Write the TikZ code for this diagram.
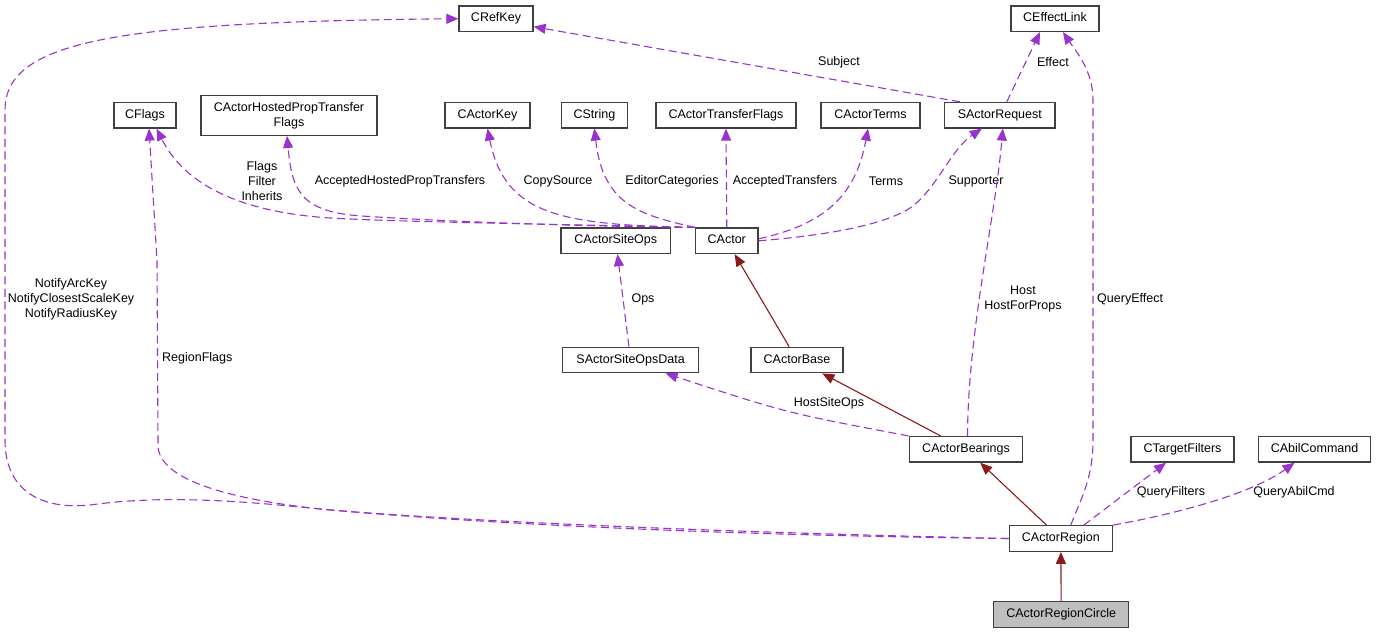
\documentclass[tikz,border=0pt]{standalone}
\usepackage{fontspec}
\setmainfont{Liberation Sans}
\usetikzlibrary{arrows.meta}
\definecolor{usecol}{HTML}{9A32CD}
\definecolor{inhcol}{HTML}{8B1A1A}

\begin{document}
\begin{tikzpicture}[x=1pt, y=-1pt,
    font=\fontsize{12.5}{15}\selectfont,
    cls/.style={draw=black!75, line width=1.3pt, minimum height=25.5pt, inner xsep=3pt, inner ysep=2pt,
      text height=9pt, text depth=3pt},
    uses/.style={draw=usecol, line width=1.1pt, dash pattern=on 8pt off 4.5pt, -{Triangle[length=12pt,width=10pt]}},
    inherits/.style={draw=inhcol, line width=1.1pt, -{Triangle[length=12pt,width=10pt]}},
    lbl/.style={inner sep=0pt, align=center}]
      \useasboundingbox (0,0) rectangle (1376,633);

      \node[cls, minimum width=74] (refkey) at (496,18.7) {CRefKey};
      \node[cls, minimum width=88] (effect) at (1055,18.7) {CEffectLink};
      \node[cls, minimum width=62] (flags) at (145,115.2) {CFlags};
      \node[draw=black!75, line width=1.3pt, minimum width=176, minimum height=40, align=center] (hosted) at (289,115.3) {CActorHostedPropTransfer\\Flags};
      \node[cls, minimum width=85] (key) at (487.5,115.2) {CActorKey};
      \node[cls, minimum width=66] (string) at (594.4,115.2) {CString};
      \node[cls, minimum width=140] (transfer) at (726,115.2) {CActorTransferFlags};
      \node[cls, minimum width=99] (terms) at (870.5,115.2) {CActorTerms};
      \node[cls, minimum width=110.5] (request) at (999.8,115.2) {SActorRequest};
      \node[cls, minimum width=109.5] (siteops) at (615.8,240.8) {CActorSiteOps};
      \node[cls, minimum width=62.5] (actor) at (726.8,240.8) {CActor};
      \node[cls, minimum width=136] (opsdata) at (630.6,360) {SActorSiteOpsData};
      \node[cls, minimum width=92] (base) at (797,360) {CActorBase};
      \node[cls, minimum width=113.5] (bearings) at (966,449.3) {CActorBearings};
      \node[cls, minimum width=103] (filters) at (1182.5,449.3) {CTargetFilters};
      \node[cls, minimum width=112] (abilcmd) at (1314.5,449.3) {CAbilCommand};
      \node[cls, minimum width=103] (region) at (1060.8,538.5) {CActorRegion};
      \node[cls, minimum width=135, fill=black!25] (circle) at (1061.2,614.5) {CActorRegionCircle};

      % inheritance
      \draw[inherits] (circle) -- (region);
      \draw[inherits] (region) -- (bearings);
      \draw[inherits] (bearings) -- (base);
      \draw[inherits] (base) -- (actor);

      % members
      \draw[uses] (request.north) ++(-40,0) -- ([yshift=-8pt]refkey.east);
      \node[lbl] (l-subject) at (839,62) {Subject};
      \draw[uses] ([xshift=7pt]request.north) -- ([xshift=-15pt]effect.south);
      \node[lbl] (l-effect) at (1053,62) {Effect};

      \draw[uses] (actor.north west) .. controls (550,224) and (400,222) .. (330,218)
        .. controls (240,212) and (185,185) .. ([xshift=11.5pt]flags.south);
      \node[lbl] (l-flags) at (262,181) {Flags\\Filter\\Inherits};
      \draw[uses] (actor.north west) .. controls (550,226) and (420,220) .. (362,216)
        .. controls (300,212) and (292,190) .. ([xshift=-2pt]hosted.south);
      \node[lbl] (l-hosted) at (400,181) {AcceptedHostedPropTransfers};
      \draw[uses] (actor.north west) .. controls (560,225) and (505,215) .. (key.south);
      \node[lbl] (l-copy) at (558,181) {CopySource};
      \draw[uses] (actor.north west) .. controls (640,215) and (603,205) .. (string.south);
      \node[lbl] (l-editor) at (672,181) {EditorCategories};
      \draw[uses] (actor.north) -- (transfer.south);
      \node[lbl] (l-transfer) at (785,181) {AcceptedTransfers};
      \draw[uses] ([yshift=2pt]actor.east) .. controls (820,225) and (855,200) .. ([xshift=-2.5pt]terms.south);
      \node[lbl] (l-terms) at (886,181) {Terms};
      \draw[uses] (actor.east) .. controls (830,235) and (880,225) .. (907,210)
        .. controls (935,193) and (950,150) .. ([xshift=-18pt]request.south);
      \node[lbl] (l-supporter) at (976,181) {Supporter};

      \draw[uses] (opsdata) -- (siteops);
      \node[lbl] (l-ops) at (643,299) {Ops};
      \draw[uses] (bearings.north west) .. controls (787,413) .. ([xshift=35pt]opsdata.south);
      \node[lbl] (l-hostops) at (829,403) {HostSiteOps};
      \draw[uses] ([xshift=1.5pt]bearings.north) .. controls (968,330) and (995,220) .. ([xshift=3pt]request.south);
      \node[lbl] (l-host) at (1023,299) {Host\\HostForProps};

      \draw[uses] ([xshift=10pt]region.north) .. controls (1080,500) and (1093,480) .. (1093,440)
        -- (1093,100) .. controls (1093,70) and (1075,50) .. ([xshift=8pt]effect.south);
      \node[lbl, anchor=west] (l-queryeffect) at (1097,299) {QueryEffect};
      \draw[uses] ([xshift=23pt]region.north) -- ([xshift=-16.5pt]filters.south);
      \node[lbl] (l-filters) at (1171,492) {QueryFilters};
      \draw[uses] (region.north east) .. controls (1170,515) and (1250,495) .. ([xshift=-20pt]abilcmd.south);
      \node[lbl] (l-abil) at (1294,492) {QueryAbilCmd};

      \draw[uses] (region.west) .. controls (700,535) and (450,522) .. (300,507)
        .. controls (200,497) and (140,498) .. (90,505)
        .. controls (40,510) and (5,490) .. (5,440) -- (5,110)
        .. controls (5,40) and (120,22) .. (refkey.west);
      \node[lbl] (l-notify) at (71,299) {NotifyArcKey\\NotifyClosestScaleKey\\NotifyRadiusKey};
      \draw[uses] (region.west) .. controls (700,532) and (450,520) .. (330,510)
        .. controls (230,500) and (158,480) .. (158,445) -- (157,260) -- ([xshift=4pt]flags.south);
      \node[lbl, anchor=west] (l-region) at (162,358) {RegionFlags};
    \end{tikzpicture}
\end{document}
